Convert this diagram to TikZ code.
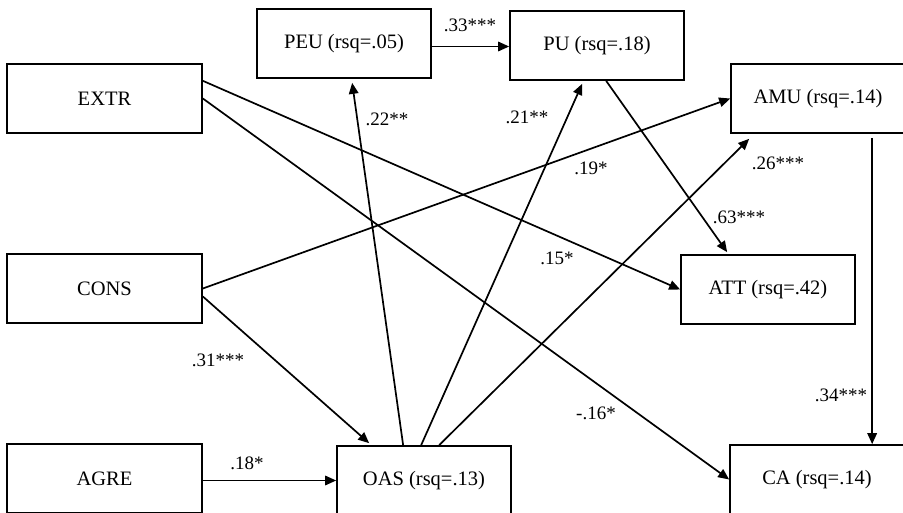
\documentclass[tikz,border=0pt]{standalone}
\usepackage{fontspec}
\setmainfont{Liberation Serif}
\usetikzlibrary{arrows.meta,calc}

\begin{document}
\begin{tikzpicture}[x=1pt,y=-1pt,
    varbox/.style={draw,line width=1.7pt,minimum width=174pt,minimum height=69pt,inner sep=0pt,font=\fontsize{20.5}{24}\selectfont},
    coef/.style={inner sep=0pt,font=\fontsize{19}{22}\selectfont},
    link/.style={line width=1.7pt,-{Triangle[length=11pt,width=9.5pt]}}]
  \useasboundingbox (0,0) rectangle (903,513);
  \clip (0,0) rectangle (903,513);
  % constructs
  \foreach \n/\t/\x/\y/\w in {
      PEU/PEU (rsq=.05)/344/43.5/174,
      PU/PU (rsq=.18)/597/45.5/174,
      EXTR/EXTR/104.5/98.5/195,
      AMU/AMU (rsq=.14)/818/98.5/174,
      CONS/CONS/104.5/288.5/195,
      ATT/ATT (rsq=.42)/768/289.5/174,
      AGRE/AGRE/104.5/478.5/195,
      OAS/OAS (rsq=.13)/424/480.5/174,
      CA/CA (rsq=.14)/817/479.5/174}
    \node[varbox,minimum width=\w pt] (\n) at (\x,\y) {\t};
  % paths
  \draw[link] ($(PEU.east)+(0,3)$) -- ($(PEU.east -| PU.west)+(0,3)$);
  \draw[link] ($(EXTR.north east)!.25!(EXTR.south east)$) -- (ATT.west);
  \draw[link] (EXTR.east) -- (CA.west);
  \draw[link] (CONS.east) -- (AMU.west);
  \draw[link] ($(CONS.east)+(0,8)$) -- ($(OAS.north west)+(33,-2)$);
  \draw[link] (AGRE.east |- OAS.west) -- (OAS.west);
  \draw[link] ($(OAS.north west)+(67,0)$) -- ($(PEU.south west)+(96,4)$);
  \draw[link] ($(OAS.north west)+(85,0)$) -- ($(PU.south west)+(73,3)$);
  \draw[link] ($(OAS.north west)+(103,0)$) -- ($(AMU.south west)+(19,5)$);
  \draw[link] ($(PU.south west)+(97,0)$) -- ($(ATT.north west)+(47,-2)$);
  \coordinate (amuout) at ($(AMU.south west)+(142,4)$);
  \draw[link] (amuout) -- (amuout |- CA.north);
  % coefficients
  \foreach \n/\t/\x/\y in {
      c1/.33***/470/25,
      c2/.22**/387/119,
      c3/.21**/527/117,
      c4/.19*/591/168,
      c5/.26***/778/163,
      c6/.63***/739/217,
      c7/.15*/557/258,
      c8/.31***/218/360,
      c9/.18*/247/463,
      c10/-.16*/596/413,
      c11/.34***/841/395}
    \node[coef] (\n) at (\x,\y) {\t};
\end{tikzpicture}
\end{document}
